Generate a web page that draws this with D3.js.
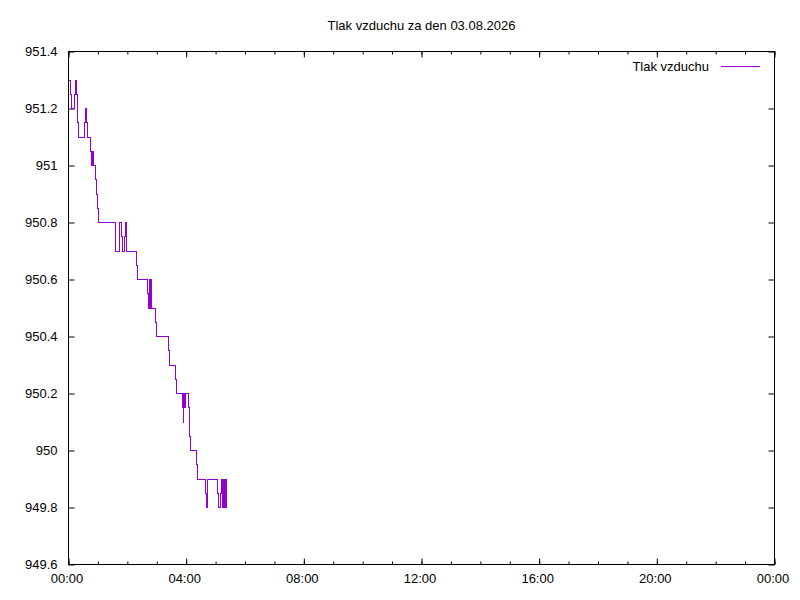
<!DOCTYPE html>
<html>
<head>
<meta charset="utf-8">
<title>Tlak vzduchu</title>
<script src="https://cdn.jsdelivr.net/npm/d3@7/dist/d3.min.js"></script>
<style>
	body { margin: 0; background: #fff; }
	text { font-family: "Liberation Sans", Arial, sans-serif; }
</style>
</head>
<body>
<div id="chart"></div>
<script>

	// samples where the pressure changes (time of day, hPa)
	var times = [
		"00:01","00:04","00:06","00:13","00:14","00:15","00:16","00:17","00:18","00:19",
		"00:21","00:32","00:34","00:35","00:36","00:37","00:38","00:45","00:46","00:48",
		"00:50","00:55","00:57","00:59","01:01","01:35","01:36","01:45","01:48","01:51",
		"01:54","01:57","01:58","01:59","02:18","02:20","02:41","02:43","02:45","02:46",
		"02:48","02:50","02:58","03:00","03:23","03:25","03:38","03:40","03:52","03:54",
		"03:55","03:57","03:58","04:04","04:06","04:08","04:22","04:24","04:40","04:42",
		"04:43","05:03","05:05","05:11","05:13","05:15","05:17","05:19","05:20","05:22",
		"05:23"
	];
	var pressure = [
		951.30,951.25,951.20,951.25,951.30,951.25,951.30,951.25,951.20,951.15,
		951.10,951.15,951.20,951.15,951.20,951.15,951.10,951.05,951.00,951.05,
		951.00,950.95,950.90,950.85,950.80,950.75,950.70,950.80,950.75,950.70,
		950.75,950.80,950.75,950.70,950.65,950.60,950.55,950.50,950.60,950.50,
		950.60,950.50,950.45,950.40,950.35,950.30,950.25,950.20,950.15,950.10,
		950.20,950.15,950.20,950.15,950.05,950.00,949.95,949.90,949.85,949.80,
		949.90,949.85,949.80,949.85,949.90,949.80,949.90,949.80,949.90,949.80,
		949.80
	];

	var y_ticks = [949.6, 949.8, 950, 950.2, 950.4, 950.6, 950.8, 951, 951.2, 951.4];
	var x_ticks = [0, 240, 480, 720, 960, 1200, 1440];
	var x_tick_labels = ["00:00","04:00","08:00","12:00","16:00","20:00","00:00"];
	var x_minor = d3.range(0, 1441, 60);

	var chart_title = "Tlak vzduchu za den 03.08.2026";
	var series_name = "Tlak vzduchu";
	var line_color = "#9400d3";

	var W = 800, H = 600;
	var p_left = 68.5, p_right = 774.5, p_top = 51.5, p_bottom = 564.5;

	function to_min(s) {
		var p = s.split(":");
		return +p[0] * 60 + +p[1];
	}

	var data = times.map(function(t, i) { return { t: to_min(t), v: pressure[i] }; });

	var svg = d3.select("#chart").append("svg")
		.attr("width", W)
		.attr("height", H);

	var x = d3.scaleLinear().domain([0, 1440]).range([p_left, p_right]);
	var y = d3.scaleLinear().domain([949.6, 951.4]).range([p_bottom, p_top]);

	// bottom axis
	svg.append("g")
		.attr("class", "x-axis")
		.attr("transform", "translate(0," + p_bottom + ")")
		.call(d3.axisBottom(x).tickValues(x_ticks).tickSize(-6).tickPadding(9)
			.tickFormat(function(d, i) { return x_tick_labels[i]; }));
	// top axis (mirror ticks only)
	svg.append("g")
		.attr("transform", "translate(0," + p_top + ")")
		.call(d3.axisTop(x).tickValues(x_ticks).tickSize(-6).tickFormat(""));
	// minor ticks
	svg.append("g")
		.attr("transform", "translate(0," + p_bottom + ")")
		.call(d3.axisBottom(x).tickValues(x_minor).tickSize(-3).tickFormat(""));
	svg.append("g")
		.attr("transform", "translate(0," + p_top + ")")
		.call(d3.axisTop(x).tickValues(x_minor).tickSize(-3).tickFormat(""));

	// left axis
	svg.append("g")
		.attr("transform", "translate(" + p_left + ",0)")
		.call(d3.axisLeft(y).tickValues(y_ticks).tickSize(-6).tickPadding(11)
			.tickFormat(function(d) { return String(+d.toFixed(1)); }));
	// right axis (mirror ticks)
	svg.append("g")
		.attr("transform", "translate(" + p_right + ",0)")
		.call(d3.axisRight(y).tickValues(y_ticks).tickSize(-6).tickFormat(""));

	svg.selectAll(".domain").remove();
	svg.selectAll(".tick line").attr("stroke", "#000");
	svg.selectAll(".tick text")
		.attr("font-size", "13px")
		.attr("fill", "#000")
		.attr("font-family", "Liberation Sans, Arial, sans-serif");
	svg.selectAll(".x-axis .tick text").attr("dx", -2);

	// frame
	svg.append("rect")
		.attr("x", p_left)
		.attr("y", p_top)
		.attr("width", p_right - p_left)
		.attr("height", p_bottom - p_top)
		.attr("fill", "none")
		.attr("stroke", "#000")
		.attr("stroke-width", 1);

	// data line
	var line = d3.line()
		.x(function(d) { return x(d.t); })
		.y(function(d) { return y(d.v); })
		.curve(d3.curveStepAfter);

	svg.append("path")
		.datum(data)
		.attr("d", line)
		.attr("fill", "none")
		.attr("stroke", line_color)
		.attr("stroke-width", 1)
		.attr("shape-rendering", "crispEdges");

	// title
	svg.append("text")
		.attr("x", (p_left + p_right) / 2)
		.attr("y", 30)
		.attr("font-size", "13px")
		.attr("text-anchor", "middle")
		.text(chart_title);

	// legend
	svg.append("text")
		.attr("x", 709)
		.attr("y", 71)
		.attr("font-size", "13px")
		.attr("text-anchor", "end")
		.text(series_name);
	svg.append("line")
		.attr("x1", 721)
		.attr("x2", 760)
		.attr("y1", 66.5)
		.attr("y2", 66.5)
		.attr("stroke", line_color)
		.attr("stroke-width", 1);

</script>
</body>
</html>
